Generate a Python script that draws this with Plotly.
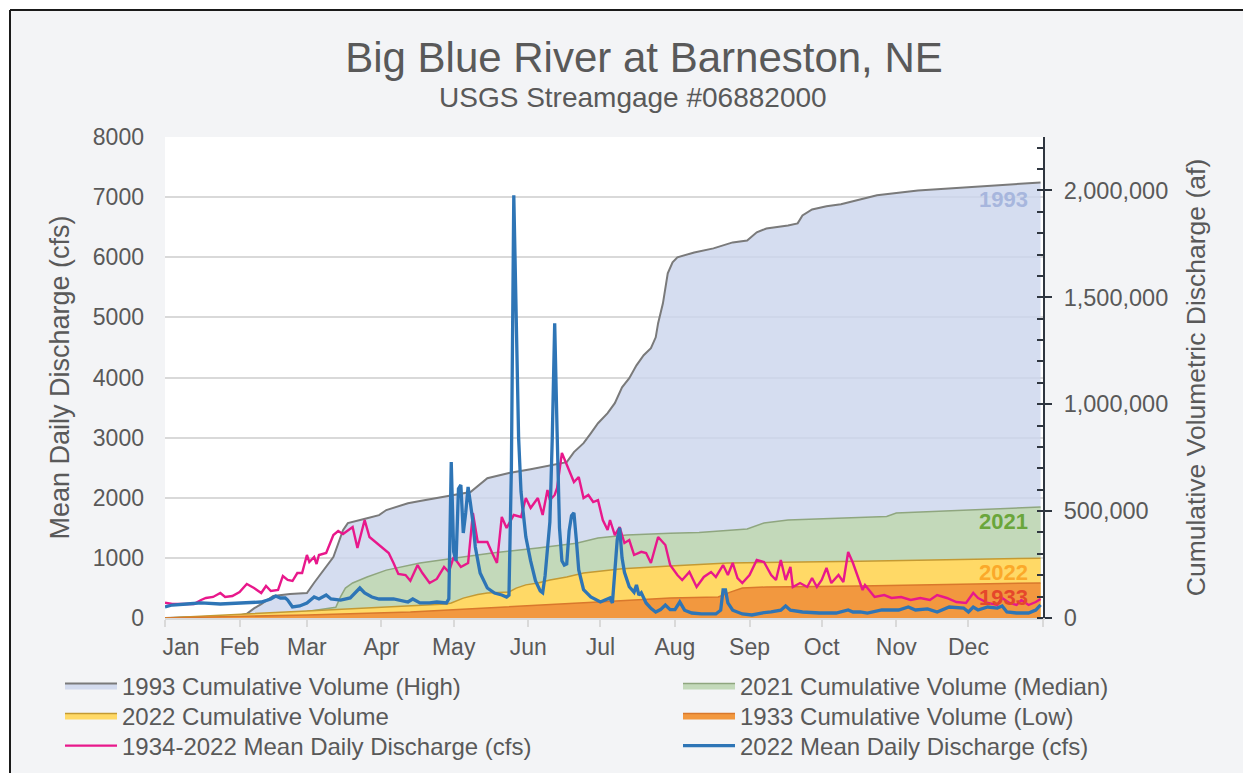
import pandas as pd
import plotly.graph_objects as go

# ---------------- data ----------------
# day offsets from 1 Jan, values
pink_day = [0,3,6,12,15,17,20,23,25,28,31,34,37,40,42,44,47,49,51,53,55,57,59,60,62,63,64,67,70,72,
            74,76,78,80,83,85,88,90,93,95,97,100,102,105,107,110,113,116,118,120,123,126,128,130,134,136,138,140,142,145,
            148,150,152,155,157,159,160,162,163,165,168,170,172,174,176,178,180,182,184,185,187,189,191,193,195,198,200,202,205,208,
            210,213,215,218,221,224,227,229,232,234,236,238,240,243,246,249,252,254,256,258,260,261,264,267,269,271,273,275,277,280,
            282,284,286,288,290,291,292,295,299,302,306,310,314,318,321,325,329,333,336,338,342,346,348,351,354,356,359,362,364]
pink_cfs = [254,233,233,233,300,333,350,415,350,366,432,565,499,416,532,449,466,699,632,615,748,748,1048,931,1014,898,1048,1081,1380,1447,
            1397,1463,1513,1164,1630,1347,1247,1181,1081,915,732,715,620,880,748,582,649,848,765,1014,848,915,1746,1264,1264,1081,915,1680,1497,1713,
            1680,1996,1829,1996,1713,2129,1962,2046,2162,2744,2461,2262,2345,1996,2046,1929,1962,1630,1463,1630,1380,1513,1247,1297,1048,1100,1081,915,1347,1214,
            881,715,632,765,516,682,765,682,881,715,915,665,582,715,965,931,715,632,965,632,848,516,582,516,665,516,632,832,582,715,
            599,1098,915,682,466,549,499,349,382,333,349,299,333,299,382,333,266,250,416,333,250,216,333,250,216,299,216,266,316]

blue_day = [0,3,9,15,23,31,37,40,44,46,48,50,51,53,56,59,62,64,67,69,73,77,81,83,86,89,95,101,103,106,
            110,113,117,118,119,120,121,122,123,124,125,126,127,128,129,131,134,137,140,142,143,144,145,146,147,148,150,152,154,156,
            157,158,159,160,161,162,163,164,165,166,167,168,169,170,171,172,174,177,181,185,186,187,188,189,190,191,193,195,196,197,
            198,200,202,204,206,208,210,212,214,216,219,223,229,231,232,233,234,236,238,240,244,248,252,256,258,260,265,272,279,284,
            286,289,292,298,305,309,312,317,321,326,332,334,336,338,342,346,348,350,354,359,362,364]
blue_cfs = [183,216,233,250,233,250,250,266,316,366,333,333,299,183,200,250,349,316,382,316,299,333,499,416,349,316,316,266,316,250,
            250,266,250,320,2594,1100,950,2150,2212,1414,1746,2179,1900,1600,1181,748,499,416,382,349,380,2500,7030,5000,3000,2100,1350,950,620,450,
            420,700,1200,1600,3000,4900,3100,1500,950,880,900,1450,1700,1750,1300,800,470,350,266,333,250,700,1300,1500,1000,760,520,430,550,380,
            420,250,160,100,140,216,140,140,266,130,83,67,67,130,466,466,250,130,100,67,50,83,100,130,200,130,100,83,83,133,
            100,100,83,133,133,183,133,150,100,183,166,100,183,133,183,166,200,100,83,83,133,220]

c93_day = [0,20,30,34,37,40,45,52,59,62,67,70,74,76,84,89,92,101,106,120,127,134,143,152,160,167,170,174,177,180,
           184,187,190,193,196,199,202,204,205,207,209,211,213,220,228,236,242,246,250,259,263,265,269,275,281,286,296,313,334,364]
c93_af = [0,4000,9000,20000,45000,65000,103000,112000,117000,165000,238000,285000,411000,444000,467000,481000,505000,537000,547000,575000,
          589000,654000,678000,696000,715000,729000,776000,818000,864000,911000,958000,1005000,1079000,1122000,1182000,1229000,1262000,1313000,1379000,1472000,
          1612000,1664000,1687000,1710000,1729000,1757000,1766000,1804000,1822000,1836000,1846000,1883000,1911000,1926000,1935000,1948000,1977000,2000000,2014000,2037000]

c21_day = [0,30,59,71,73,75,78,84,92,98,106,120,136,155,171,180,192,210,222,242,249,259,289,300,304,364]
c21_af = [0,10000,30000,50000,100000,140000,164000,192000,224000,238000,257000,280000,304000,327000,350000,374000,388000,397000,400000,416000,
          444000,458000,472000,475000,491000,519000]

c22_day = [0,30,59,90,106,117,119,124,130,134,143,146,150,155,160,167,174,185,190,210,234,289,364]
c22_af = [0,15000,33000,50000,58000,65000,70000,93000,110000,117000,122000,140000,155000,164000,178000,192000,210000,224000,230000,243000,
          257000,266000,280000]

c33_day = [0,59,102,143,180,210,230,235,240,250,289,364]
c33_af = [0,14000,28000,51000,75000,93000,98000,121000,140000,145000,150000,164000]

month_ticks = ["2022-01-01","2022-02-01","2022-03-01","2022-04-01","2022-05-01","2022-06-01","2022-07-01",
               "2022-08-01","2022-09-01","2022-10-01","2022-11-01","2022-12-01","2023-01-01"]
month_text = ["\u00a0\u00a0\u00a0\u00a0\u00a0Jan","Feb","Mar","Apr","May","Jun","Jul","Aug","Sep","Oct","Nov","Dec",""]

# ---------------- figure ----------------
base = pd.Timestamp("2022-01-01")
def dates(days):
    return base + pd.to_timedelta(days, unit="D")

FONT = "Liberation Sans, Arial, sans-serif"
GREY = "#595959"

W, H = 1243, 773
L, T = 165, 137
R = W - 1043
B = H - 618
pw, ph = W - L - R, H - T - B
def px(x):   # window pixel -> paper x
    return (x - L) / pw
def py(y):   # window pixel -> paper y
    return (H - B - y) / ph

fig = go.Figure()

fig.add_trace(go.Scatter(x=dates(c93_day), y=c93_af, name="1993 Cumulative Volume (High)", mode="lines",
                         line=dict(color="#7A7A7A", width=2), fill="tozeroy", fillcolor="rgba(203,213,236,0.8)",
                         yaxis="y", legend="legend"))
fig.add_trace(go.Scatter(x=dates(c21_day), y=c21_af, name="2021 Cumulative Volume (Median)", mode="lines",
                         line=dict(color="#8FA67F", width=1.5), fill="tozeroy", fillcolor="#C3D9BA",
                         yaxis="y", legend="legend2"))
fig.add_trace(go.Scatter(x=dates(c22_day), y=c22_af, name="2022 Cumulative Volume", mode="lines",
                         line=dict(color="#C49A33", width=1.5), fill="tozeroy", fillcolor="#FFD966",
                         yaxis="y", legend="legend3"))
fig.add_trace(go.Scatter(x=dates(c33_day), y=c33_af, name="1933 Cumulative Volume (Low)", mode="lines",
                         line=dict(color="#D9782C", width=1.5), fill="tozeroy", fillcolor="#F2983F",
                         yaxis="y", legend="legend4"))
fig.add_trace(go.Scatter(x=dates(pink_day), y=pink_cfs, name="1934-2022 Mean Daily Discharge (cfs)", mode="lines",
                         line=dict(color="#E8188B", width=2.4), yaxis="y2", legend="legend5"))
fig.add_trace(go.Scatter(x=dates(blue_day), y=blue_cfs, name="2022 Mean Daily Discharge (cfs)", mode="lines",
                         line=dict(color="#2E75B6", width=3.3), yaxis="y2", legend="legend6"))

def leg(xpx, ypx):
    return dict(x=px(xpx), y=py(ypx), xanchor="left", yanchor="middle", orientation="v",
                bgcolor="rgba(0,0,0,0)", font=dict(size=24, color=GREY, family=FONT), itemwidth=52)

fig.update_layout(
    width=W, height=H,
    margin=dict(l=L, r=R, t=T, b=B, autoexpand=False),
    paper_bgcolor="#F3F4F6", plot_bgcolor="white",
    font=dict(family=FONT, color=GREY, size=23),
    title=dict(text="Big Blue River at Barneston, NE", x=644 / W, y=1 - 57 / H,
               xanchor="center", yanchor="middle", font=dict(size=42, color=GREY, family=FONT)),
    xaxis=dict(type="date", range=["2022-01-01", "2023-01-01"], tickmode="array", tickvals=month_ticks,
               ticktext=month_text, showgrid=False, showline=True, linecolor="#D9D9D9", linewidth=2,
               ticks="outside", ticklen=7, tickwidth=2, tickcolor="#D9D9D9", zeroline=False,
               tickfont=dict(size=23, color=GREY), ticklabelstandoff=0),
    yaxis=dict(side="right", range=[0, 2250000], tick0=0, dtick=500000, tickformat=",", showgrid=False,
               showline=True, linecolor="#2F3640", linewidth=2, ticks="outside", ticklen=7, tickwidth=2,
               tickcolor="#2F3640", zeroline=False, tickfont=dict(size=23.5, color=GREY),
               ticklabelstandoff=7,
               minor=dict(ticks="inside", ticklen=6, tickwidth=2, tickcolor="#2F3640", tick0=0, dtick=100000,
                          showgrid=False),
               title=dict(text="Cumulative Volumetric Discharge (af)", font=dict(size=26.5, color=GREY), standoff=19)),
    yaxis2=dict(overlaying="y", side="left", range=[0, 8000], dtick=1000, showgrid=True, gridcolor="#D9D9D9",
                gridwidth=1.5, zeroline=False, showline=False, ticks="", tickfont=dict(size=23, color=GREY),
                ticklabelstandoff=20,
                title=dict(text="Mean Daily Discharge (cfs)", font=dict(size=27, color=GREY), standoff=15)),
    legend=leg(60, 686), legend2=leg(678, 686),
    legend3=leg(60, 716), legend4=leg(678, 716),
    legend5=leg(60, 746), legend6=leg(678, 746),
    showlegend=True,
)

# chart frame (white outside, dark border) and plot-area background
fig.add_shape(type="rect", xref="paper", yref="paper", x0=px(-5), x1=px(10), y0=py(800), y1=py(-5),
              fillcolor="white", line=dict(width=0), layer="below")
fig.add_shape(type="rect", xref="paper", yref="paper", x0=px(-5), x1=px(1300), y0=py(10), y1=py(-5),
              fillcolor="white", line=dict(width=0), layer="below")
fig.add_shape(type="line", xref="paper", yref="paper", x0=px(10), x1=px(1300), y0=py(10), y1=py(10),
              line=dict(color="#1A1A1A", width=2), layer="below")
fig.add_shape(type="line", xref="paper", yref="paper", x0=px(10), x1=px(10), y0=py(10), y1=py(800),
              line=dict(color="#1A1A1A", width=2), layer="below")
fig.add_shape(type="rect", xref="paper", yref="paper", x0=0, x1=1, y0=0, y1=1,
              fillcolor="white", line=dict(width=0), layer="below")

fig.add_annotation(text="USGS Streamgage #06882000", xref="paper", yref="paper", x=px(633), y=py(97),
                   xanchor="center", yanchor="middle", showarrow=False, font=dict(size=28, color=GREY, family=FONT))

LABEL_FONT = "Liberation Sans Narrow, Arial Narrow, Liberation Sans, sans-serif"
for txt, ypx, col in [("1993", 200, "#A7B6DD"), ("2021", 521, "#6AA63B"), ("2022", 572, "#FBA92A"), ("1933", 597, "#E5472B")]:
    fig.add_annotation(text="<b>" + txt + "</b>", xref="paper", yref="paper", x=px(1030), y=py(ypx),
                       xanchor="right", yanchor="middle", showarrow=False,
                       font=dict(size=22, color=col, family=LABEL_FONT))

fig.write_html("out.html", config={"displayModeBar": False},
               post_script="document.body.style.margin='0';document.body.style.overflow='hidden';"
                           "document.documentElement.style.overflow='hidden';")
